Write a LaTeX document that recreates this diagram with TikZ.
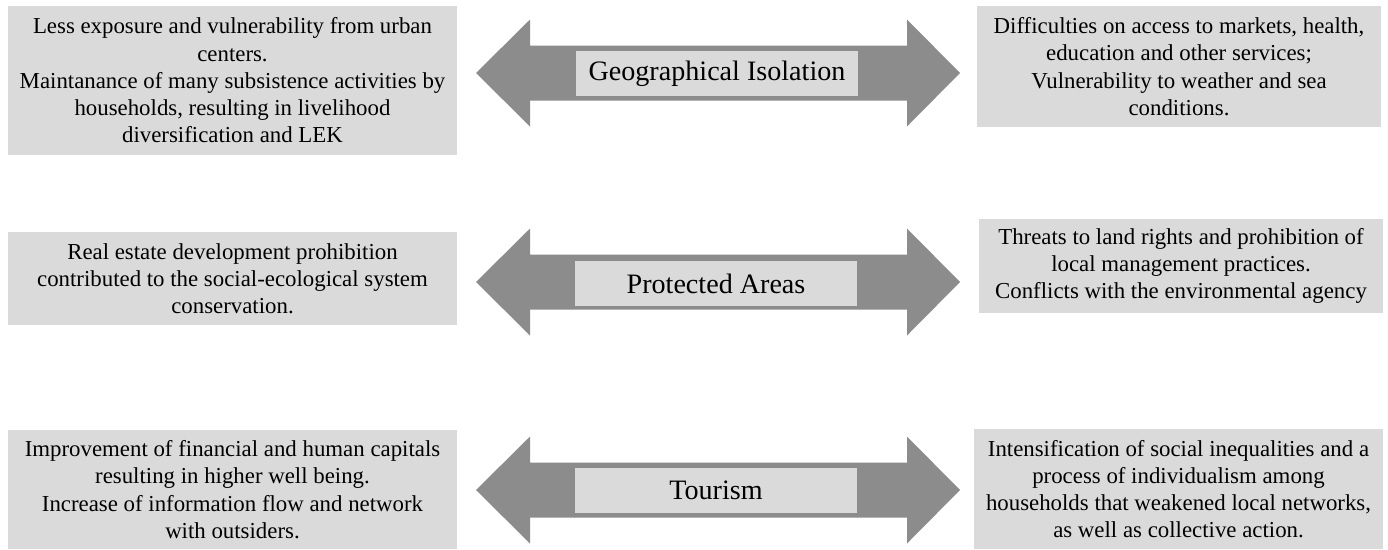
\documentclass[tikz,border=0pt]{standalone}
\usepackage{fontspec}
\setmainfont{Liberation Serif}
\usepackage{tikz}
\usetikzlibrary{positioning}
\definecolor{mygray1}{RGB}{218, 218, 218}
\definecolor{mygray2}{RGB}{140, 140, 140}
\tikzset{sidebox/.style = {fill = mygray1, align = center, inner sep = 0pt, font = \fontsize{13}{15.5}\selectfont},
  tagbox/.style = {fill = mygray1, inner sep = 0pt, minimum width = 5.66cm, minimum height = 0.9cm, font = \fontsize{16}{18}\selectfont}}

\begin{document}
\begin{tikzpicture}[x = 0.02cm, y = -0.02cm]
\useasboundingbox (0,0) rectangle (1388,549);

% double arrows
\foreach \y in {73, 282, 490}
  \fill[mygray2] (476,\y) -- (530,\y-53.5) -- (530,\y-27.5) -- (907,\y-27.5) -- (907,\y-53.5) -- (960,\y)
    -- (907,\y+53.5) -- (907,\y+27.5) -- (530,\y+27.5) -- (530,\y+53.5) -- cycle;

\node[tagbox] (geo)  at (717,73.5) {Geographical Isolation};
\node[tagbox] (prot) at (716,283.5) {Protected Areas};
\node[tagbox] (tour) at (716,490) {Tourism};

% left boxes
\node[sidebox, minimum width = 8.98cm, minimum height = 2.98cm] (geoplus) at (232.5,80.5)
  {Less exposure and vulnerability from urban\\ centers.\\ Maintanance of many subsistence activities by\\ households, resulting in livelihood\\ diversification and LEK};
\node[sidebox, minimum width = 8.98cm, minimum height = 1.86cm] (protplus) at (232.5,278.5)
  {Real estate development prohibition\\ contributed to the social-ecological system\\ conservation.};
\node[sidebox, minimum width = 8.98cm, minimum height = 2.38cm] (tourplus) at (232.5,489.5)
  {Improvement of financial and human capitals\\ resulting in higher well being.\\ Increase of information flow and network\\ with outsiders.};

% right boxes
\node[sidebox, minimum width = 8.08cm, minimum height = 2.42cm] (geominus) at (1179,66.5)
  {Difficulties on access to markets, health,\\ education and other services;\\ Vulnerability to weather and sea\\ conditions.};
\node[sidebox, minimum width = 8.08cm, minimum height = 1.88cm] (protminus) at (1181,266)
  {Threats to land rights and prohibition of\\ local management practices.\\ Conflicts with the environmental agency};
\node[sidebox, minimum width = 8.18cm, minimum height = 2.4cm] (tourminus) at (1178.5,489)
  {Intensification of social inequalities and a\\ process of individualism among\\ households that weakened local networks,\\ as well as collective action.};

\end{tikzpicture}
\end{document}
